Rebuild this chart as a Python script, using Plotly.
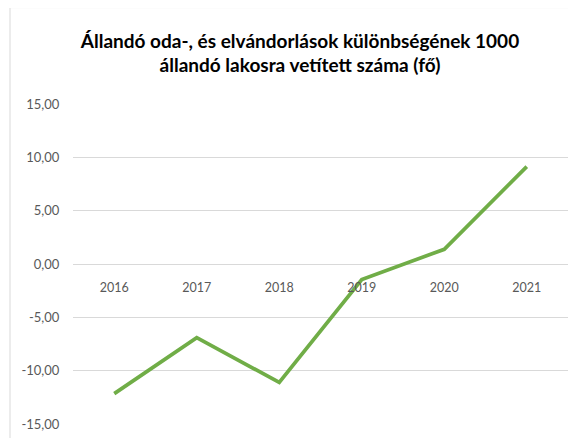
import plotly.graph_objects as go

# évek és az értékek (fő / 1000 állandó lakos)
years = ["2016", "2017", "2018", "2019", "2020", "2021"]
values = [-12.15, -6.9, -11.1, -1.45, 1.38, 9.13]
y_ticks = [15, 10, 5, 0, -5, -10, -15]
y_labels = ["15,00", "10,00", "5,00", "0,00", "-5,00", "-10,00", "-15,00"]

# the page body has an 8px margin, so everything is placed 8px up/left
fig = go.Figure(go.Scatter(
    x=years, y=values, mode="lines",
    line=dict(color="#70AD47", width=3.7),
    hoverinfo="x+y",
))

fig.update_layout(
    width=576, height=438,
    margin=dict(l=65, r=16, t=96, b=22),
    paper_bgcolor="white", plot_bgcolor="white",
    showlegend=False,
    font=dict(family="Lato, Open Sans, sans-serif", size=12, color="#595959"),
    title=dict(
        text="Állandó oda-, és elvándorlások különbségének 1000<br>állandó lakosra vetített száma (fő)",
        x=292 / 576, xref="container", xanchor="center",
        y=1 - 39.5 / 438, yref="container", yanchor="middle",
        font=dict(family="Lato, sans-serif", size=19, color="black", weight="bold"),
    ),
    xaxis=dict(
        type="category", range=[-0.5, 5.5],
        anchor="free", position=0.5,
        showgrid=False, showline=False, zeroline=False,
        ticks="outside", ticklen=12, tickcolor="rgba(0,0,0,0)",
        tickfont=dict(size=12.5, color="#595959"),
    ),
    yaxis=dict(
        range=[-15, 15], tickvals=y_ticks, ticktext=y_labels,
        showgrid=True, gridcolor="#d9d9d9", gridwidth=1,
        zeroline=False, showline=False,
        ticks="outside", ticklen=10, tickcolor="rgba(0,0,0,0)",
        tickfont=dict(size=13, color="#595959"),
    ),
    shapes=[dict(
        type="rect", xref="paper", yref="paper",
        x0=(2 - 65) / 495, x1=1.2, y0=-0.2, y1=(416.3 + 0.5) / 320.3,
        line=dict(color="#d9d9d9", width=1), layer="below",
    )],
)

fig.write_html("out.html")
